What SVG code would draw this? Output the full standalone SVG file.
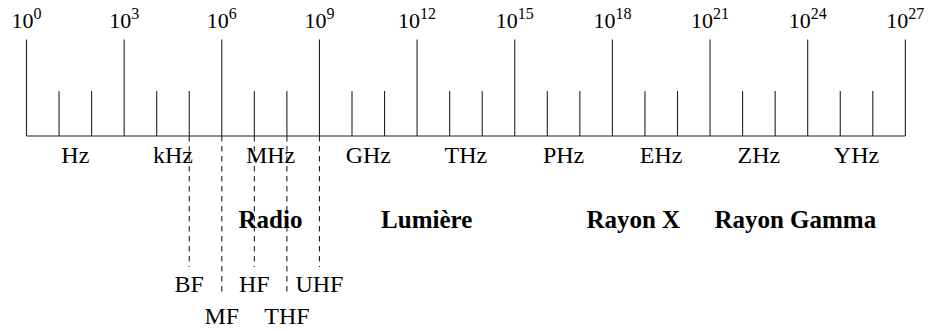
<svg xmlns="http://www.w3.org/2000/svg" width="936" height="331" viewBox="0 0 936 331">
<style>
.ln{stroke:#222;stroke-width:1.1;fill:none}
.dash{stroke:#222;stroke-width:1.1;fill:none;stroke-dasharray:5.5,4.5}
.t{font-family:"Liberation Serif","Times New Roman",serif;fill:#000;text-anchor:middle}
.num{font-size:22px}
.sup{font-size:16px}
.unit{font-size:24px}
.band{font-size:25px;font-weight:bold}
.sub{font-size:24px}
</style>
<rect width="936" height="331" fill="#fff"/>
<g id="connectors">
<path class="ln" d="M26.5 136H905.35"/>
<path class="ln" d="M26.5 39.5V136M124.15 39.5V136M221.8 39.5V136M319.45 39.5V136M417.1 39.5V136M514.75 39.5V136M612.4 39.5V136M710.05 39.5V136M807.7 39.5V136M905.35 39.5V136"/>
<path class="ln" d="M59.05 91V136M91.6 91V136M156.7 91V136M189.25 91V136M254.35 91V136M286.9 91V136M352 91V136M384.55 91V136M449.65 91V136M482.2 91V136M547.3 91V136M579.85 91V136M644.95 91V136M677.5 91V136M742.6 91V136M775.15 91V136M840.25 91V136M872.8 91V136"/>
<path class="dash" d="M189.25 136V267M254.35 136V267M319.45 136V267"/>
<path class="dash" d="M221.8 136V293M286.9 136V293"/>
</g>
<g id="powers">
<text class="t num" x="26.5" y="27.5">10<tspan class="sup" dy="-9">0</tspan></text>
<text class="t num" x="124.15" y="27.5">10<tspan class="sup" dy="-9">3</tspan></text>
<text class="t num" x="221.8" y="27.5">10<tspan class="sup" dy="-9">6</tspan></text>
<text class="t num" x="319.45" y="27.5">10<tspan class="sup" dy="-9">9</tspan></text>
<text class="t num" x="417.1" y="27.5">10<tspan class="sup" dy="-9">12</tspan></text>
<text class="t num" x="514.75" y="27.5">10<tspan class="sup" dy="-9">15</tspan></text>
<text class="t num" x="612.4" y="27.5">10<tspan class="sup" dy="-9">18</tspan></text>
<text class="t num" x="710.05" y="27.5">10<tspan class="sup" dy="-9">21</tspan></text>
<text class="t num" x="807.7" y="27.5">10<tspan class="sup" dy="-9">24</tspan></text>
<text class="t num" x="905.35" y="27.5">10<tspan class="sup" dy="-9">27</tspan></text>
</g>
<g id="units">
<text class="t unit" x="75.3" y="163.3">Hz</text>
<text class="t unit" x="173" y="163.3">kHz</text>
<text class="t unit" x="270.6" y="163.3">MHz</text>
<text class="t unit" x="368.3" y="163.3">GHz</text>
<text class="t unit" x="465.9" y="163.3">THz</text>
<text class="t unit" x="563.6" y="163.3">PHz</text>
<text class="t unit" x="661.2" y="163.3">EHz</text>
<text class="t unit" x="758.9" y="163.3">ZHz</text>
<text class="t unit" x="856.5" y="163.3">YHz</text>
</g>
<g id="bands">
<text class="t band" x="270.5" y="227.5">Radio</text>
<text class="t band" x="426.7" y="227.5">Lumière</text>
<text class="t band" x="633.3" y="227.5">Rayon X</text>
<text class="t band" x="795.3" y="227.5">Rayon Gamma</text>
</g>
<g id="radio-bands">
<text class="t sub" x="189.25" y="292">BF</text>
<text class="t sub" x="254.35" y="292">HF</text>
<text class="t sub" x="319.45" y="292">UHF</text>
<text class="t sub" x="221.8" y="323.5">MF</text>
<text class="t sub" x="286.9" y="323.5">THF</text>
</g>
</svg>
